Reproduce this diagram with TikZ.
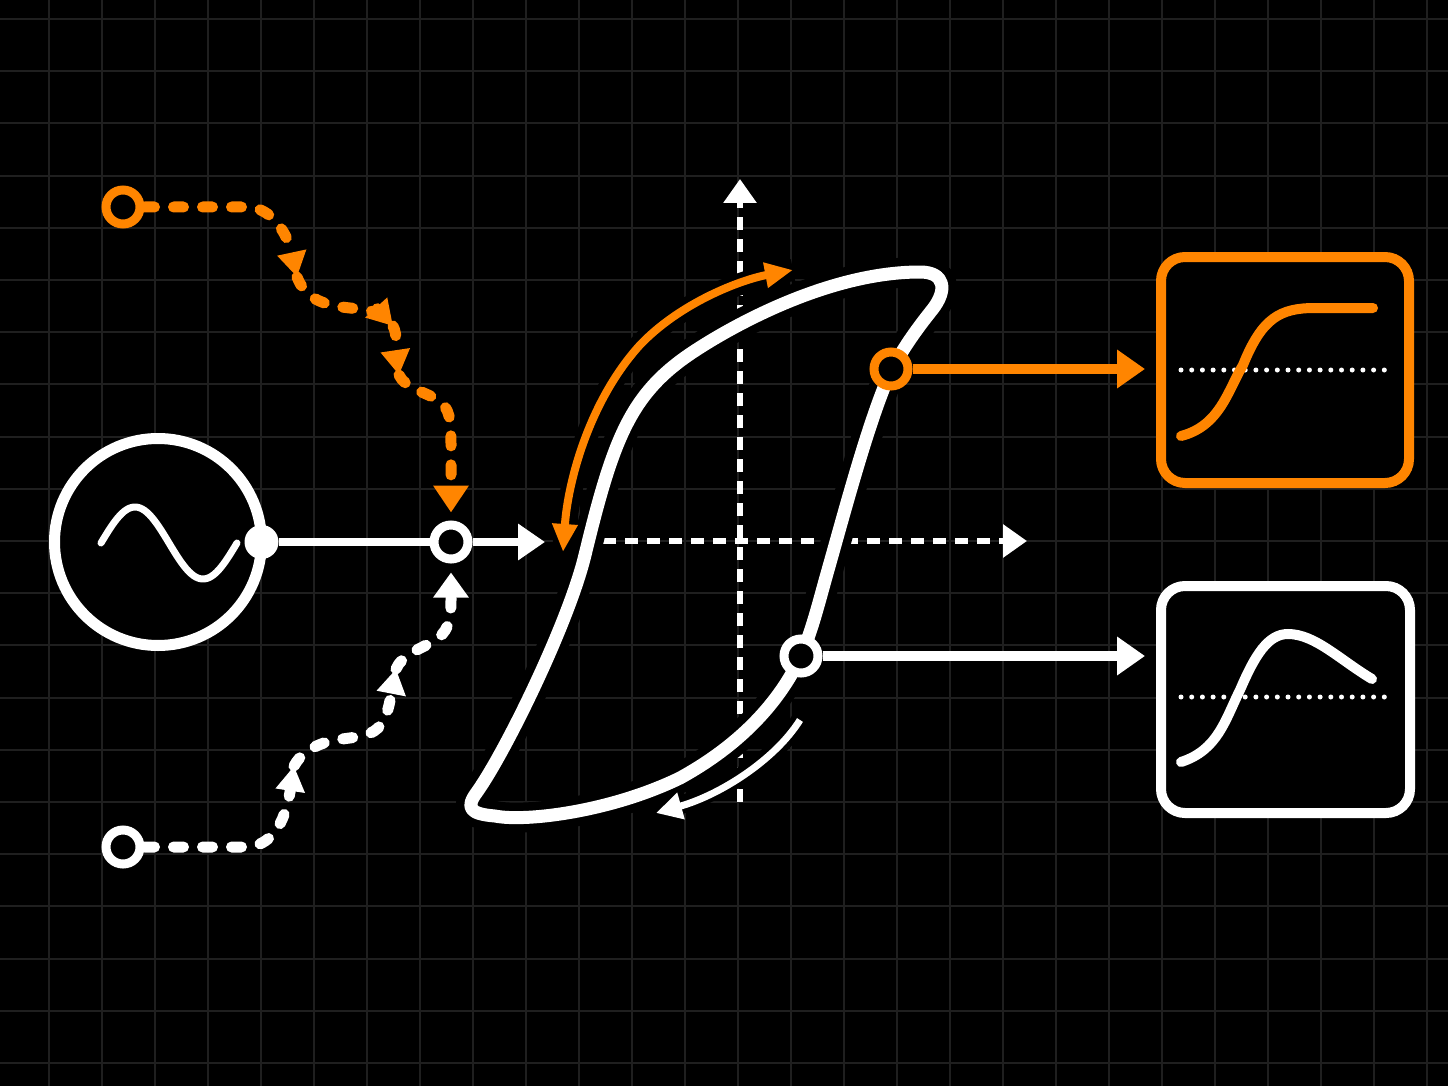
\documentclass[tikz,border=0pt]{standalone}
\usetikzlibrary{arrows.meta}
\definecolor{org}{RGB}{255,133,0}
\definecolor{gridc}{RGB}{31,31,31}
\begin{document}
\begin{tikzpicture}[x=1pt,y=-1pt,
  gridline/.style={gridc, line width=2pt},
  ringbase/.style={circle, line width=9pt, fill=black, minimum size=34pt, inner sep=0pt},
  oring/.style={ringbase, draw=org},
  wring/.style={ringbase, draw=white},
  srcc/.style={circle, draw=white, line width=11pt, fill=black, minimum size=207pt, inner sep=0pt, outer sep=0pt},
  wdot/.style={circle, fill=white, minimum size=34pt, inner sep=0pt},
  boxbase/.style={rectangle, line width=10pt, rounded corners=24pt, fill=black, inner sep=0pt},
  obox/.style={boxbase, draw=org, minimum width=248pt, minimum height=226pt},
  wbox/.style={boxbase, draw=white, minimum width=249pt, minimum height=227pt},
  odash/.style={draw=org, line width=11pt, line cap=round, dash pattern=on 10pt off 19pt},
  wdash/.style={draw=white, line width=11pt, line cap=round, dash pattern=on 10pt off 19pt},
  omid/.style={-{Triangle[width=28pt,length=25pt]}},
  wmid/.style={-{Triangle[width=28pt,length=25pt]}},
  ofinal/.style={-{Triangle[width=34pt,length=27pt]}},
  wfinal/.style={-{Triangle[width=34pt,length=25pt]}},
  axisline/.style={draw=white, line width=6pt, dash pattern=on 13pt off 9pt, -{Triangle[width=32pt,length=24pt]}},
  dotline/.style={draw=white, line width=5pt, line cap=round, dash pattern=on 0pt off 10.7pt},
]
% background and grid
\path[use as bounding box, fill=black] (0,0) rectangle (1448,1086);
\foreach \i in {0,...,26} \draw[gridline] ({49+53*\i},0) -- ({49+53*\i},1086);
\foreach \j in {0,...,20} \draw[gridline] (0,{19+52.2*\j}) -- (1448,{19+52.2*\j});

% axes
\coordinate (vbot) at (740,802);
\coordinate (vtop) at (740,179);
\coordinate (hleft) at (603,541);
\coordinate (hright) at (1027,541);
\draw[axisline] (vbot) -- (vtop);
\draw[axisline] (hleft) -- (hright);

% hysteresis loop
\draw[white, line width=13pt, line join=round, preaction={draw=black, line width=30pt}]
  (477,792) .. controls (506,751) and (568.5,623) .. (585,555)
  .. controls (613.5,437.6) and (630.75,393.25) .. (693,352)
  .. controls (734.5,324.5) and (830,272) .. (920,272)
  .. controls (945,272) and (948,290) .. (932,310)
  .. controls (912,335) and (895,360) .. (885,385)
  .. controls (865,435) and (845,510) .. (828,570)
  .. controls (818,605) and (810,640) .. (795,668)
  .. controls (775,705) and (740,745) .. (680,778)
  .. controls (610,812) and (525,822) .. (495,816)
  .. controls (470,814) and (465,808) .. cycle;

% orange double arrow along upper branch
\coordinate (arcA) at (563,552);
\coordinate (arcB) at (793,270);
\draw[black, line width=22pt] (arcA) .. controls (568,480) and (590,400) .. (640,345)
  .. controls (680,303) and (740,280) .. (arcB);
\draw[org, line width=8pt, {Triangle[width=24pt,length=28pt]}-{Triangle[width=24pt,length=28pt]}]
  (arcA) .. controls (568,480) and (590,400) .. (640,345)
  .. controls (680,303) and (740,280) .. (arcB);

% small white arrow along lower branch
\coordinate (sarcA) at (800,720);
\coordinate (sarcB) at (656,813);
\draw[black, line width=18pt] (sarcA) .. controls (775,760) and (720,795) .. (sarcB);
\draw[white, line width=7pt, -{Triangle[width=26pt,length=26pt]}]
  (sarcA) .. controls (775,760) and (720,795) .. (sarcB);

% source
\node[srcc] (src) at (158,542) {};
\draw[white, line width=7pt, line cap=round]
  plot[domain=101:237, samples=60, smooth] (\x, {543-36*sin((\x-101)/136*360)});
\node[wdot] (dot) at (src.east) {};
\node[wring] (jn) at (451,542) {};
\draw[white, line width=8pt] (dot) -- (jn);
\coordinate (loopin) at (545,542);
\draw[white, line width=8pt, -{Triangle[width=35pt,length=27pt]}] (jn) -- (loopin);

% start points
\node[oring] (os) at (123,207) {};
\node[wring] (ws) at (123,847) {};

% orange dashed route
\coordinate (oa1) at (297,277);
\coordinate (oa2) at (393,326);
\coordinate (oa3) at (399,375);
\draw[odash, omid] (os) -- (247,207) .. controls (272,207) and (288,235) .. (oa1);
\draw[odash, omid] (oa1) .. controls (305,297) and (320,305) .. (350,308)
  .. controls (370,310) and (383,315) .. (oa2);
\draw[odash, omid] (oa2) .. controls (398,335) and (396,355) .. (oa3);
\draw[odash, ofinal, shorten >=8pt] (oa3) .. controls (405,388) and (425,392) .. (438,400)
  .. controls (450,408) and (451,420) .. (451,445) -- (jn);

% white dashed route
\coordinate (wa1) at (294,766);
\coordinate (wa2) at (396,669);
\draw[wdash, wmid] (ws) -- (245,847) .. controls (270,847) and (285,825) .. (wa1);
\draw[wdash, wmid] (wa1) .. controls (300,755) and (310,747) .. (330,741)
  .. controls (350,737) and (368,738) .. (378,728)
  .. controls (388,718) and (390,700) .. (wa2);
\draw[wdash, wfinal, shorten >=9pt] (wa2) .. controls (402,655) and (418,650) .. (432,642)
  .. controls (448,633) and (451,622) .. (451,600) -- (jn);

% output points on loop
\node[oring] (op) at (891,369) {};
\node[wring] (wp) at (801,656) {};

% output boxes
\node[obox] (ob) at (1285,370) {};
\node[wbox] (wb) at (1285.5,699.5) {};
\draw[org, line width=10pt, -{Triangle[width=37pt,length=28pt]}, shorten >=11pt] (op) -- (op -| ob.west);
\draw[white, line width=10pt, -{Triangle[width=37pt,length=28pt]}, shorten >=11pt] (wp) -- (wp -| wb.west);

% box contents
\draw[dotline] (1181,370) -- (1392,370);
\draw[org, line width=10pt, line cap=round] (1181,436) .. controls (1220,426) and (1228,390) .. (1243,365)
  .. controls (1262,318) and (1280,308) .. (1315,308) -- (1373,308);
\draw[dotline] (1181,697) -- (1392,697);
\draw[white, line width=10pt, line cap=round] (1181,762) .. controls (1218,750) and (1225,720) .. (1240,690)
  .. controls (1255,655) and (1268,634) .. (1288,634)
  .. controls (1315,634) and (1340,660) .. (1372,679);
\end{tikzpicture}
\end{document}
